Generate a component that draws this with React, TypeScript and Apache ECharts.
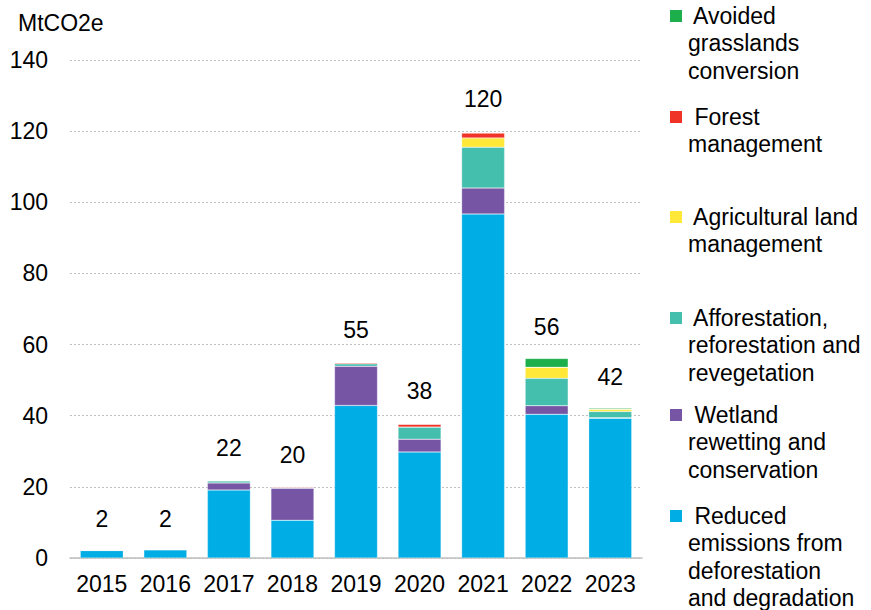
import React, { useEffect, useRef } from "react";
import * as echarts from "echarts";

const years = ["2015", "2016", "2017", "2018", "2019", "2020", "2021", "2022", "2023"];
const reduced = [2.1, 2.3, 19.1, 10.6, 42.9, 29.8, 96.7, 40.4, 39.3];
const wetland = [0, 0, 2.0, 9.0, 11.0, 3.6, 7.3, 2.4, 0.1];
const afforestation = [0.1, 0.1, 0.6, 0.2, 0.7, 3.4, 11.5, 7.7, 1.8];
const agricultural = [0, 0, 0, 0, 0, 0, 2.6, 3.1, 0.6];
const forestMgmt = [0, 0, 0, 0.2, 0.3, 0.8, 1.4, 0, 0];
const grasslands = [0, 0, 0, 0, 0, 0, 0, 2.5, 0.3];
const totals = [2, 2, 22, 20, 55, 38, 120, 56, 42];
const yTicks = [0, 20, 40, 60, 80, 100, 120, 140];

const seriesDefs = [
  { name: "Reduced emissions from deforestation and degradation", data: reduced, color: "#00AEE5", lines: [" Reduced", "emissions from", "deforestation", "and degradation"], top: 516 },
  { name: "Wetland rewetting and conservation", data: wetland, color: "#7655A5", lines: [" Wetland", "rewetting and", "conservation"], top: 415 },
  { name: "Afforestation, reforestation and revegetation", data: afforestation, color: "#45BFAD", lines: [" Afforestation,", "reforestation and", "revegetation"], top: 318 },
  { name: "Agricultural land management", data: agricultural, color: "#FFE837", lines: [" Agricultural land", "management"], top: 217 },
  { name: "Forest management", data: forestMgmt, color: "#EF3326", lines: [" Forest", "management"], top: 117 },
  { name: "Avoided grasslands conversion", data: grasslands, color: "#1CAF4C", lines: [" Avoided", "grasslands", "conversion"], top: 16 },
];

const FONT = "Liberation Sans, Arial, sans-serif";
const FS = 23;

export default function App() {
  const ref = useRef<HTMLDivElement>(null);
  useEffect(() => {
    document.body.style.margin = "0";
    if (!ref.current) return;
    const chart = echarts.init(ref.current, undefined, { renderer: "svg" });
    const graphics: any[] = [
      {
        type: "text",
        x: 18,
        y: 23,
        style: { text: "MtCO2e", font: `${FS}px ${FONT}`, fill: "#000", textVerticalAlign: "middle" },
      },
    ];
    seriesDefs.forEach((s) => {
      graphics.push({
        type: "rect",
        shape: { x: 670, y: s.top - 6, width: 12, height: 12 },
        style: { fill: s.color },
      });
      s.lines.forEach((ln, i) => {
        graphics.push({
          type: "text",
          x: 688,
          y: s.top + i * 27.3,
          style: {
            text: ln,
            font: `${FS}px ${FONT}`,
            lineHeight: FS,
            fill: "#000",
            textVerticalAlign: "middle",
            textAlign: "left",
          },
        });
      });
    });
    chart.setOption({
      animation: false,
      backgroundColor: "#fff",
      textStyle: { fontFamily: FONT },
      grid: { left: 70, top: 60, width: 572, height: 498, containLabel: false },
      xAxis: {
        type: "category",
        data: years,
        axisTick: { show: false },
        axisLine: { lineStyle: { color: "#BFBFBF", width: 1.5 } },
        axisLabel: { color: "#000", fontSize: FS, fontFamily: FONT, margin: 14, interval: 0 },
      },
      yAxis: {
        type: "value",
        min: 0,
        max: 140,
        interval: 20,
        axisLine: { show: false },
        axisTick: { show: false },
        axisLabel: {
          color: "#000",
          fontSize: FS,
          fontFamily: FONT,
          margin: 22,
          formatter: (v: number) => (yTicks.includes(v) ? String(v) : ""),
        },
        splitLine: { lineStyle: { color: "#BFBFBF", type: [2, 2], width: 1 } },
      },
      graphic: graphics,
      series: [
        ...seriesDefs.map((s) => ({
          name: s.name,
          type: "bar",
          stack: "total",
          data: s.data,
          barWidth: 43,
          itemStyle: { color: s.color, borderColor: "rgba(255,255,255,0.5)", borderWidth: 0.5 },
        })),
        {
          name: "Total",
          type: "scatter",
          data: totals,
          symbol: "circle",
          symbolSize: 1,
          itemStyle: { color: "rgba(0,0,0,0)", opacity: 1 },
          label: {
            show: true,
            position: "top",
            distance: 20,
            fontSize: FS,
            fontFamily: FONT,
            color: "#000",
            opacity: 1,
          },
          z: 10,
        },
      ],
    });
    return () => chart.dispose();
  }, []);
  return <div ref={ref} style={{ width: 871, height: 610 }} />;
}
